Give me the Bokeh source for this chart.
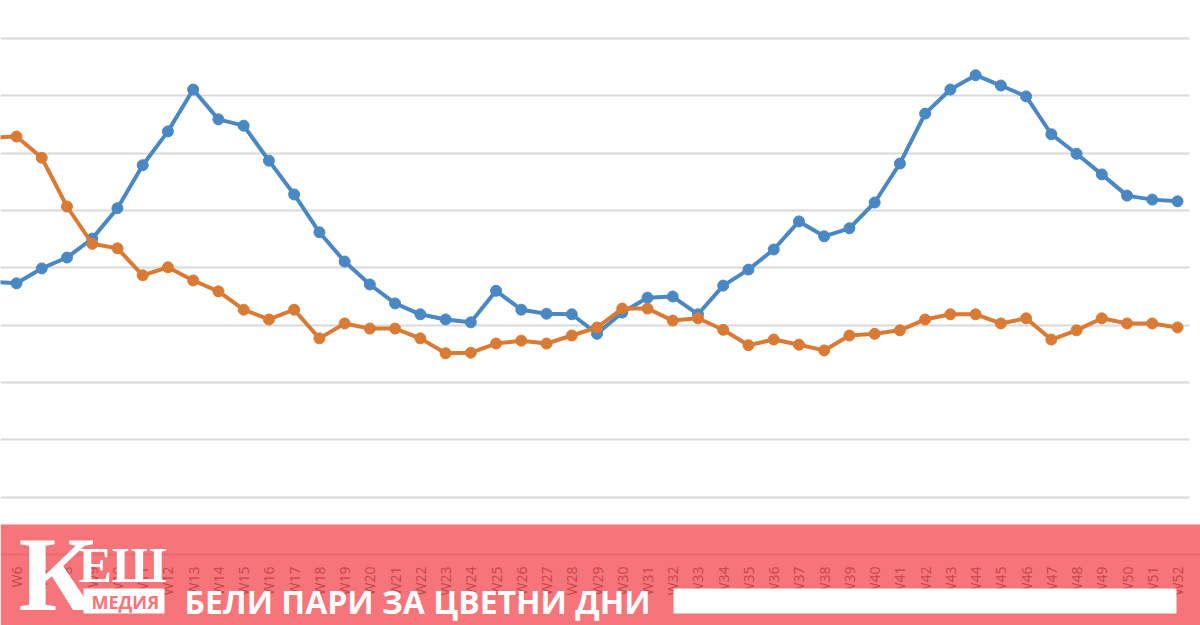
from math import pi
from bokeh.plotting import figure
from bokeh.embed import file_html
from bokeh.resources import INLINE
from bokeh.models import BoxAnnotation, Label, FixedTicker, Legend, LegendItem, Range1d

weeks = list(range(5, 53))
week_labels = {w: f"W{w}" for w in range(6, 53)}
grid_values = [0, 10, 20, 30, 40, 50, 60, 70, 80, 90]
series_2021 = [47.6, 47.3, 49.9, 51.8, 55.1, 60.4, 67.9, 73.8, 81.1, 75.9, 74.8, 68.7, 62.8, 56.2, 51.1, 47.1,
               43.8, 41.9, 41.0, 40.5, 46.0, 42.7, 42.0, 41.9, 38.5, 42.2, 44.8, 45.0, 41.9, 46.9, 49.7, 53.2,
               58.1, 55.5, 56.9, 61.4, 68.2, 76.9, 81.1, 83.6, 81.8, 79.9, 73.3, 69.9, 66.3, 62.6, 61.9, 61.6]
series_2022 = [72.7, 72.9, 69.2, 60.7, 54.2, 53.4, 48.7, 50.1, 47.8, 45.9, 42.7, 41.0, 42.7, 37.7, 40.3, 39.4,
               39.4, 37.7, 35.1, 35.2, 36.8, 37.3, 36.8, 38.2, 39.6, 42.9, 42.9, 40.8, 41.2, 39.2, 36.5, 37.5,
               36.6, 35.6, 38.2, 38.5, 39.1, 41.0, 41.9, 41.9, 40.3, 41.2, 37.5, 39.1, 41.2, 40.3, 40.3, 39.6]
name_2021 = "2021 (4.01.2021 - 3.01.2022)"
name_2022 = "2022 (3.01.2022 - 1.01.2023)"
logo_k, logo_esh, logo_media = "К", "ЕШ", "МЕДИЯ"
slogan = "БЕЛИ ПАРИ ЗА ЦВЕТНИ ДНИ"

BLUE, ORANGE, GRID, BAND = "#4a88c4", "#d97b35", "#d9d9d9", "#f2474e"

p = figure(width=1200, height=625, output_backend="svg", toolbar_location=None,
           x_range=Range1d(5.366, 52.91), y_range=Range1d(-12.38, 96.63),
           min_border=0, outline_line_color=None,
           background_fill_color="white", border_fill_color="white")
p.yaxis.visible = False
p.xgrid.visible = False
p.ygrid.ticker = FixedTicker(ticks=grid_values)
p.ygrid.grid_line_color = GRID
p.ygrid.grid_line_width = 2

ax = p.xaxis[0]
ax.fixed_location = 0
ax.bounds = (5.366, 52.47)
ax.ticker = FixedTicker(ticks=list(week_labels))
ax.major_label_overrides = week_labels
ax.major_label_orientation = pi / 2
ax.major_label_text_font = "Open Sans"
ax.major_label_text_font_size = "14px"
ax.major_label_text_color = "#404040"
ax.major_label_standoff = 6
ax.major_tick_line_color = None
ax.minor_tick_line_color = None
ax.axis_line_color = GRID
ax.axis_line_width = 2

l1 = p.line(weeks, series_2021, line_color=BLUE, line_width=4)
c1 = p.scatter(weeks, series_2021, size=11, fill_color=BLUE, line_color=BLUE)
l2 = p.line(weeks, series_2022, line_color=ORANGE, line_width=4)
c2 = p.scatter(weeks, series_2022, size=11, fill_color=ORANGE, line_color=ORANGE)

legend = Legend(items=[LegendItem(label=name_2021, renderers=[l1, c1]),
                       LegendItem(label=name_2022, renderers=[l2, c2])],
                orientation="horizontal", location=(280, -19), spacing=60,
                background_fill_alpha=0, border_line_color=None,
                label_text_font="Open Sans", label_text_font_size="14px", label_text_color="#404040")
p.add_layout(legend)


def ry(y):
    return 625 - y


def box(x0, x1, y0, y1, color, alpha):
    p.add_layout(BoxAnnotation(left=x0, right=x1, left_units="screen", right_units="screen",
                               top=ry(y0), bottom=ry(y1), top_units="screen", bottom_units="screen",
                               fill_color=color, fill_alpha=alpha, line_color=None, level="overlay"))


box(1189, 1200, 0, 524, "white", 1)
box(0, 1200, 524, 625, BAND, 0.75)
box(83, 164, 588, 613, "white", 1)
box(673, 1176, 588, 613, "white", 1)


def label(text, x, y, size, font, color="white", style="bold"):
    p.add_layout(Label(text=text, x=x, y=ry(y - 0.37 * size), x_units="screen", y_units="screen",
                       text_font=font, text_font_size=f"{size}px", text_font_style=style, level="overlay",
                       text_color=color, text_baseline="alphabetic", text_align="left"))


label(logo_k, 18, 613, 106, "Liberation Serif")
label(logo_esh, 78, 583, 50, "Liberation Serif")
label(logo_media, 91, 608, 18, "Open Sans", "#f5757b")
label(slogan, 184, 613, 32, "Open Sans")

open("out.html", "w").write(file_html(p, INLINE))
